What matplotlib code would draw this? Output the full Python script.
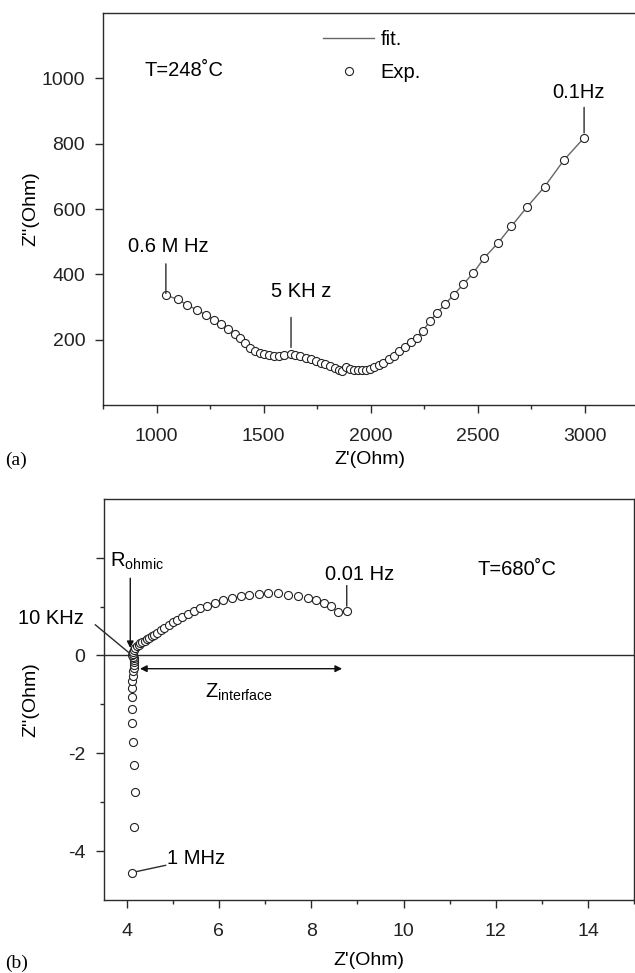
import matplotlib
matplotlib.use('Agg')
import matplotlib.pyplot as plt
from matplotlib.ticker import MultipleLocator, FixedLocator

plt.rcParams['font.family'] = ['Liberation Sans', 'DejaVu Sans']
plt.rcParams['mathtext.fontset'] = 'custom'
plt.rcParams['mathtext.rm'] = 'Liberation Sans'
plt.rcParams['mathtext.it'] = 'Liberation Sans'

# (a) T=248 C, Nyquist data
z_re_a = [1043, 1098, 1144, 1188, 1229, 1266, 1301, 1334, 1364, 1389, 1413, 1437,
          1459, 1481, 1503, 1525, 1548, 1570, 1593, 1628, 1646, 1671, 1696, 1720,
          1744, 1766, 1788, 1810, 1832, 1851, 1867, 1883, 1902, 1921, 1940, 1959,
          1978, 1998, 2017, 2038, 2060, 2084, 2108, 2133, 2160, 2187, 2217, 2244,
          2276, 2310, 2347, 2388, 2434, 2481, 2532, 2597, 2658, 2730, 2813, 2904, 2998]
z_im_a = [337, 323, 306, 291, 276, 261, 247, 233, 218, 204, 189, 175,
          165, 159, 155, 152, 151, 151, 152, 155, 153, 149, 144, 140,
          136, 130, 124, 118, 113, 108, 104, 116, 111, 108, 106, 106,
          108, 111, 116, 122, 130, 140, 151, 164, 178, 192, 206, 226,
          256, 282, 308, 337, 370, 405, 451, 497, 547, 605, 668, 750, 818]

# (b) T=680 C, Nyquist data
z_re_b = [4.11, 4.16, 4.18, 4.15, 4.14, 4.12, 4.11, 4.11, 4.11, 4.12, 4.13, 4.14,
          4.15, 4.16, 4.17, 4.17, 4.16, 4.14,
          4.12, 4.13, 4.14, 4.16, 4.19, 4.22, 4.26, 4.30, 4.34, 4.39, 4.44, 4.49,
          4.54, 4.59, 4.66, 4.74, 4.82, 4.91, 5.00, 5.10, 5.20, 5.32, 5.46, 5.60,
          5.75, 5.92, 6.09, 6.28, 6.47, 6.66, 6.86, 7.06, 7.29, 7.50, 7.71, 7.92,
          8.11, 8.27, 8.43, 8.58, 8.77]
z_im_b = [-4.44, -3.50, -2.80, -2.24, -1.77, -1.39, -1.09, -0.85, -0.67, -0.52, -0.41, -0.32,
          -0.25, -0.19, -0.14, -0.10, -0.06, -0.03,
          0.00, 0.04, 0.08, 0.12, 0.16, 0.19, 0.22, 0.25, 0.275, 0.305, 0.335, 0.36,
          0.39, 0.42, 0.47, 0.52, 0.57, 0.63, 0.68, 0.735, 0.79, 0.85, 0.91, 0.97,
          1.02, 1.08, 1.13, 1.18, 1.21, 1.24, 1.26, 1.28, 1.28, 1.245, 1.22, 1.18,
          1.14, 1.075, 1.005, 0.88, 0.91]

xticks_a = [1000, 1500, 2000, 2500, 3000]
yticks_a = [200, 400, 600, 800, 1000]
xticks_b = [4, 6, 8, 10, 12, 14]
yticks_b = [-4, -2, 0, 2]
ylabels_b = ['-4', '-2', '0', '']
yminor_b = [-3, -1, 1]

FS = 14
FS_T = 14.5
DARK = '#2b2b2b'
W, H = 635, 973

fig = plt.figure(figsize=(6.35, 9.73), dpi=100)
ax1 = fig.add_axes([103.2 / W, 1 - 405 / H, (638 - 103.2) / W, 392 / H])
ax2 = fig.add_axes([103.5 / W, 1 - 900 / H, (634.3 - 103.5) / W, 401 / H])

mk = dict(marker='o', ms=5.8, mfc='white', mec='#222', mew=0.8, ls='none')

def style(ax):
    for s in ax.spines.values():
        s.set_color(DARK)
        s.set_linewidth(1.0)
    ax.tick_params(which='both', direction='out', color=DARK, width=1.0,
                   labelsize=FS, labelcolor='#222', top=False, right=False)
    ax.tick_params(which='major', length=5.5)
    ax.tick_params(which='minor', length=3)
    ax.tick_params(axis='x', which='both', pad=11)
    ax.tick_params(axis='y', which='both', pad=7.5)

# ---- panel (a)
fit_line, = ax1.plot(z_re_a, z_im_a, color='#666', lw=1.0, label='fit.')
exp_pts, = ax1.plot(z_re_a, z_im_a, label='Exp.', **mk)
ax1.set_xlim(750, 3250)
ax1.set_ylim(0, 1200)
ax1.set_xticks(xticks_a)
ax1.set_yticks(yticks_a)
ax1.xaxis.set_minor_locator(MultipleLocator(250))
style(ax1)
ax1.set_xlabel("Z'(Ohm)", fontsize=FS)
ax1.set_ylabel("Z''(Ohm)", fontsize=FS)
ax1.yaxis.set_label_coords(-0.12, 0.5)
ax1.xaxis.set_label_coords((369.5 - 103.2) / 534.8, -0.117)

ax1.legend(handles=[fit_line, exp_pts], loc='upper left', frameon=False,
           fontsize=FS_T, numpoints=1, handlelength=2.55, handletextpad=0.3,
           labelspacing=0.72, borderpad=0, borderaxespad=0,
           bbox_to_anchor=(323 / W, 1 - 30 / H), bbox_transform=fig.transFigure)

ax1.text(945, 1025, 'T=248˚C', fontsize=FS_T, ha='left', va='center')

# frequency markers
ax1.text(1054, 484, '0.6 M Hz', fontsize=FS_T, ha='center', va='center')
ax1.annotate('', xy=(z_re_a[0], z_im_a[0]), xytext=(z_re_a[0], 432),
             arrowprops=dict(arrowstyle='-', color=DARK, lw=1, shrinkA=0, shrinkB=1))
ax1.text(1674, 346, '5 KH z', fontsize=FS_T, ha='center', va='center')
ax1.annotate('', xy=(z_re_a[19], z_im_a[19]), xytext=(z_re_a[19], 268),
             arrowprops=dict(arrowstyle='-', color=DARK, lw=1, shrinkA=0, shrinkB=5))
ax1.text(2971, 957, '0.1Hz', fontsize=FS_T, ha='center', va='center')
ax1.annotate('', xy=(z_re_a[-1], z_im_a[-1]), xytext=(z_re_a[-1], 911),
             arrowprops=dict(arrowstyle='-', color=DARK, lw=1, shrinkA=0, shrinkB=3.5))

# ---- panel (b)
ax2.axhline(0, color=DARK, lw=1.0)
ax2.plot(z_re_b, z_im_b, **mk)
ax2.set_xlim(3.5, 15)
ax2.set_ylim(-5, 3.2)
ax2.set_xticks(xticks_b)
ax2.set_yticks(yticks_b)
ax2.set_yticklabels(ylabels_b)
ax2.xaxis.set_minor_locator(MultipleLocator(1))
ax2.yaxis.set_minor_locator(FixedLocator(yminor_b))
style(ax2)
ax2.set_xlabel("Z'(Ohm)", fontsize=FS)
ax2.set_ylabel("Z''(Ohm)", fontsize=FS)
ax2.yaxis.set_label_coords(-0.12, 0.5)
ax2.xaxis.set_label_coords(0.5, -0.13)

ax2.text(3.64, 1.81, r'$\mathrm{R_{ohmic}}$', fontsize=FS_T, ha='left', va='baseline')
ax2.annotate('', xy=(4.08, 0.15), xytext=(4.08, 1.58),
             arrowprops=dict(arrowstyle='-|>', color='#111', lw=1, mutation_scale=10,
                             shrinkA=0, shrinkB=0))
ax2.text(3.07, 0.76, '10 KHz', fontsize=FS_T, ha='right', va='center')
ax2.annotate('', xy=(4.06, 0.05), xytext=(3.32, 0.63),
             arrowprops=dict(arrowstyle='-', color=DARK, lw=1, shrinkA=0, shrinkB=0))
ax2.text(9.05, 1.65, '0.01 Hz', fontsize=FS_T, ha='center', va='center')
ax2.annotate('', xy=(z_re_b[-1], z_im_b[-1]), xytext=(z_re_b[-1], 1.43),
             arrowprops=dict(arrowstyle='-', color=DARK, lw=1, shrinkA=0, shrinkB=3.5))
ax2.text(11.61, 1.76, 'T=680˚C', fontsize=FS_T, ha='left', va='center')
ax2.annotate('', xy=(4.29, -0.27), xytext=(8.67, -0.27),
             arrowprops=dict(arrowstyle='<|-|>', color='#111', lw=1, mutation_scale=10,
                             shrinkA=0, shrinkB=0))
ax2.text(5.69, -0.86, r'$\mathrm{Z_{interface}}$', fontsize=FS_T, ha='left', va='baseline')
ax2.text(4.87, -4.15, '1 MHz', fontsize=FS_T, ha='left', va='center')
ax2.annotate('', xy=(z_re_b[0], z_im_b[0]), xytext=(4.85, -4.29),
             arrowprops=dict(arrowstyle='-', color=DARK, lw=1, shrinkA=0, shrinkB=3.5))

# panel letters
fig.text(5 / W, 1 - 460 / H, '(a)', fontsize=FS, family='Liberation Serif', va='center')
fig.text(5 / W, 1 - 963 / H, '(b)', fontsize=FS, family='Liberation Serif', va='center')

fig.savefig('out.png', dpi=100)
